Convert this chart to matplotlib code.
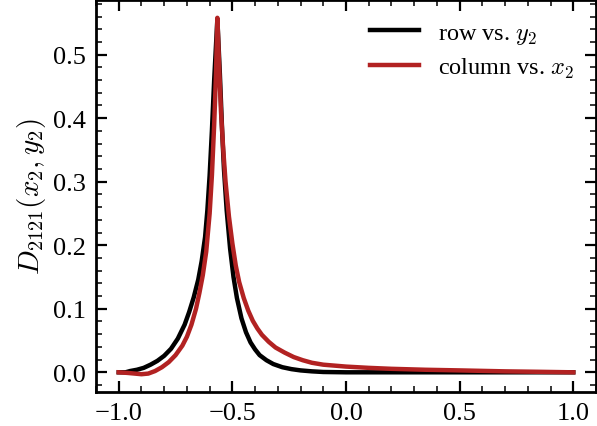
import numpy as np
import matplotlib
matplotlib.use("Agg")
import matplotlib.pyplot as plt
from matplotlib.ticker import MultipleLocator

plt.rcParams['font.family'] = ['Liberation Serif', 'DejaVu Serif']
plt.rcParams['mathtext.fontset'] = 'cm'

# row vs. y2 (noir)
row_x = [-1.0, -0.97, -0.95, -0.92, -0.89, -0.86, -0.83, -0.80, -0.77, -0.74,
         -0.71, -0.69, -0.67, -0.65, -0.635, -0.62, -0.61, -0.60, -0.59, -0.58,
         -0.566, -0.555, -0.545, -0.537, -0.525, -0.51, -0.495, -0.48, -0.46, -0.44,
         -0.42, -0.40, -0.38, -0.35, -0.32, -0.28, -0.24, -0.20, -0.15, -0.10,
         0.0, 0.2, 0.5, 1.0]
row_y = [0.0, 0.0, 0.002, 0.004, 0.007, 0.012, 0.018, 0.026, 0.037, 0.053,
         0.075, 0.095, 0.118, 0.146, 0.175, 0.213, 0.255, 0.31, 0.38, 0.46,
         0.556, 0.47, 0.38, 0.32, 0.255, 0.195, 0.15, 0.117, 0.085, 0.063,
         0.047, 0.036, 0.027, 0.019, 0.013, 0.008, 0.005, 0.003, 0.0015, 0.0005,
         0.0, 0.0, 0.0, 0.0]

# column vs. x2 (rouge)
col_x = [-1.0, -0.96, -0.93, -0.90, -0.87, -0.84, -0.81, -0.78, -0.75, -0.72,
         -0.70, -0.68, -0.66, -0.645, -0.63, -0.615, -0.60, -0.59, -0.58, -0.572,
         -0.566, -0.558, -0.55, -0.54, -0.53, -0.515, -0.50, -0.485, -0.47, -0.45,
         -0.43, -0.41, -0.39, -0.37, -0.34, -0.31, -0.27, -0.23, -0.19, -0.15,
         -0.10, -0.05, 0.0, 0.1, 0.2, 0.35, 0.5, 0.7, 0.85, 1.0]
col_y = [0.0, -0.001, -0.002, -0.003, -0.002, 0.002, 0.008, 0.016, 0.027, 0.042,
         0.056, 0.075, 0.10, 0.125, 0.153, 0.19, 0.25, 0.31, 0.39, 0.47,
         0.558, 0.48, 0.41, 0.35, 0.30, 0.245, 0.203, 0.168, 0.142, 0.117,
         0.097, 0.081, 0.069, 0.059, 0.048, 0.039, 0.031, 0.024, 0.019, 0.015,
         0.012, 0.0105, 0.009, 0.007, 0.0055, 0.004, 0.003, 0.0015, 0.0008, 0.0]

fig = plt.figure(figsize=(5.97, 4.27), dpi=100)
ax = fig.add_axes([96 / 597, 34 / 427, 500 / 597, 392 / 427])

ax.plot(row_x, row_y, color='black', lw=3.2, solid_joinstyle='round', label=r'row vs. $y_2$')
ax.plot(col_x, col_y, color='#b22222', lw=3.2, solid_joinstyle='round', label=r'column vs. $x_2$')

ax.set_xlim(-1.1, 1.1)
ax.set_ylim(-0.031, 0.586)
ax.xaxis.set_major_locator(MultipleLocator(0.5))
ax.xaxis.set_minor_locator(MultipleLocator(0.1))
ax.yaxis.set_major_locator(MultipleLocator(0.1))
ax.yaxis.set_minor_locator(MultipleLocator(0.02))
ax.tick_params(which='both', direction='in', top=True, right=True, labelsize=19, pad=7)
ax.tick_params(which='major', length=8, width=1.6)
ax.tick_params(which='minor', length=4, width=1.1)
for s in ax.spines.values():
    s.set_linewidth(2)

ax.set_ylabel(r'$D_{2121}(x_2, y_2)$', fontsize=21, labelpad=4)
ax.legend(loc='upper right', frameon=False, fontsize=17.5, handlelength=2.0,
          labelspacing=0.4)

fig.savefig('out.png', dpi=100)
